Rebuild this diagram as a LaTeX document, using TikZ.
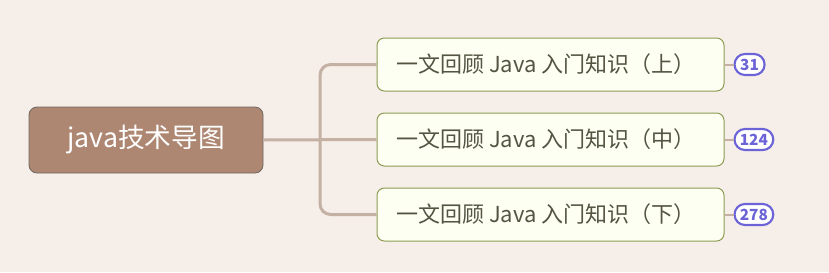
\documentclass[tikz,border=0pt]{standalone}
\usepackage{fontspec}
\setmainfont{Noto Sans CJK SC}
\usepackage{xcolor}
\usetikzlibrary{positioning}

\definecolor{bgc}{HTML}{F6EEE9}
\definecolor{rootc}{HTML}{AD8772}
\definecolor{rootd}{HTML}{6F6660}
\definecolor{linkc}{HTML}{C4B1A4}
\definecolor{subc}{HTML}{FDFFF3}
\definecolor{subd}{HTML}{8D9C52}
\definecolor{subt}{HTML}{555443}
\definecolor{tagc}{HTML}{6B63D6}

\begin{document}
\begin{tikzpicture}[
  x=0.75pt, y=-0.75pt,
  root/.style={rounded corners=6pt, draw=rootd, line width=0.6pt, fill=rootc, text=white, minimum width=175.5pt, minimum height=49.5pt, font=\fontsize{20}{23}\selectfont},
  sub/.style={rounded corners=5.5pt, draw=subd, line width=0.75pt, fill=subc, text=subt, minimum width=260.25pt, minimum height=39.75pt, font=\fontsize{16.5}{19}\selectfont},
  tag/.style={rounded corners=7.8pt, draw=tagc, line width=1.6pt, fill=white, text=tagc, minimum width=22.5pt, minimum height=15.75pt, inner xsep=4pt, inner ysep=0pt, font=\fontsize{11.5}{12}\selectfont\bfseries},
  link/.style={draw=linkc, line width=2.25pt},
  tlink/.style={draw=linkc, line width=1.5pt},
]
% canvas
\fill[bgc] (0,0) rectangle (829,272);
\useasboundingbox (0,0) rectangle (829,272);

% root
\node[root] (r) at (146,140) {java技术导图};

% branches
\node[sub] (c1) at (550.5,64.5) {\hspace*{-7pt}一文回顾 Java 入门知识（上）};
\node[sub] (c2) at (550.5,139.5) {\hspace*{-7pt}一文回顾 Java 入门知识（中）};
\node[sub] (c3) at (550.5,214.5) {\hspace*{-7pt}一文回顾 Java 入门知识（下）};
\coordinate (j) at (320,140);

% counts
\node[tag, right=6.75pt of c1] (n1) {31};
\node[tag, right=6.75pt of c2] (n2) {124};
\node[tag, right=6.75pt of c3] (n3) {278};

% connectors
\draw[link] (r.east) -- (c2.west);
\draw[link, rounded corners=8pt] (c1.west) -| (j) |- (c3.west);
\foreach \i in {1,2,3}{\draw[tlink] (c\i.east) -- (n\i.west);}

\end{tikzpicture}
\end{document}
